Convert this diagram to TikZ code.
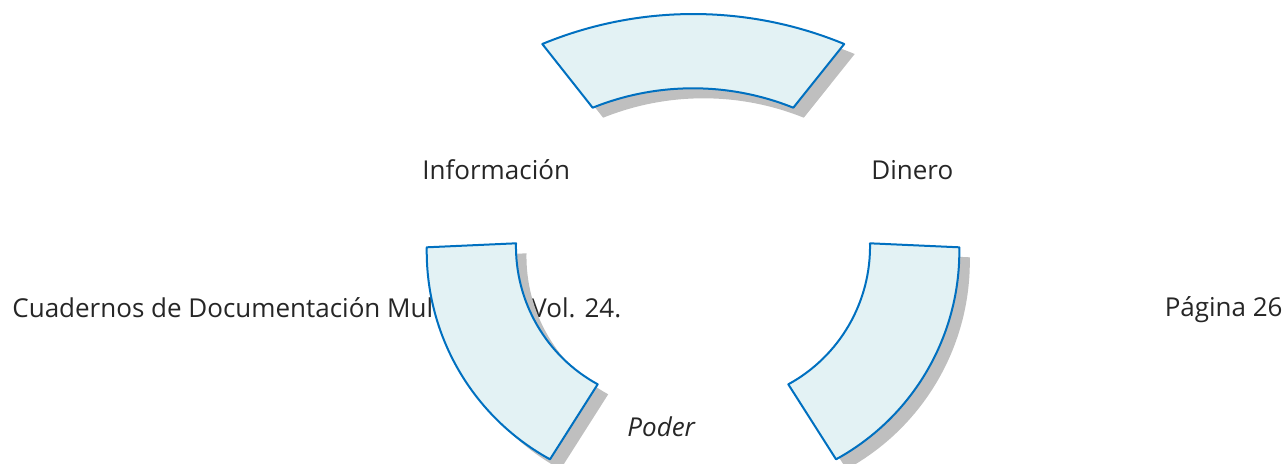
\documentclass[tikz,border=0pt]{standalone}
\usepackage{fontspec}
\setmainfont{Open Sans}
\definecolor{arcfill}{RGB}{227,242,244}
\definecolor{arcline}{RGB}{0,112,192}
\definecolor{arcshadow}{RGB}{191,191,191}
\definecolor{txtgray}{RGB}{38,38,38}
\tikzset{
  blockarc/.style={fill=arcfill, draw=arcline, line width=1pt, line join=round},
  arcshade/.style={fill=arcshadow, shift={(10.5,10)}},
  lbl/.style={inner sep=0pt, text=txtgray, font=\fontsize{13}{15}\selectfont}
}
\begin{document}
\begin{tikzpicture}[x=0.5pt,y=0.5pt,yscale=-1,xscale=1]
\useasboundingbox (0,0) rectangle (1287,463);

% Text Node: page footer
\node [lbl, anchor=base west] (footer) at (12,317) {Cuadernos de Documentación Multimedia Vol. 24.};
\node [lbl, anchor=base east] (pagina) at (1283,316) {Página 26};

%Shape: Block Arc top (shadow, then arc)
\fill [arcshade] (542.3,44) arc[start angle=-112.47, end angle=-67.53, radius=395] -- (793.3,107.7) arc[start angle=-68.1, end angle=-111.9, radius=269] -- cycle;
\draw [blockarc] (542.3,44) arc[start angle=-112.47, end angle=-67.53, radius=395] -- (793.3,107.7) arc[start angle=-68.1, end angle=-111.9, radius=269] -- cycle;

%Shape: Block Arc left
\fill [arcshade] (426.7,247.3) -- (516,243.3) arc[start angle=181.17, end angle=118.65, radius=157] -- (550,459.3) arc[start angle=118.69, end angle=180.97, radius=237.1] -- cycle;
\draw [blockarc] (426.7,247.3) -- (516,243.3) arc[start angle=181.17, end angle=118.65, radius=157] -- (550,459.3) arc[start angle=118.69, end angle=180.97, radius=237.1] -- cycle;

%Shape: Block Arc right
\fill [arcshade] (870,243.3) -- (959.3,247.3) arc[start angle=-0.97, end angle=61.31, radius=237.1] -- (788.3,384.3) arc[start angle=61.35, end angle=-1.17, radius=157] -- cycle;
\draw [blockarc] (870,243.3) -- (959.3,247.3) arc[start angle=-0.97, end angle=61.31, radius=237.1] -- (788.3,384.3) arc[start angle=61.35, end angle=-1.17, radius=157] -- cycle;

% Text Node
\node [lbl, anchor=base west] (info) at (422,179.3) {Información};
% Text Node
\node [lbl, anchor=base west] (dinero) at (871,179.3) {Dinero};
% Text Node
\node [lbl, anchor=base west, font=\fontsize{13}{15}\selectfont\itshape] (poder) at (627,436.7) {Poder};

\end{tikzpicture}
\end{document}
